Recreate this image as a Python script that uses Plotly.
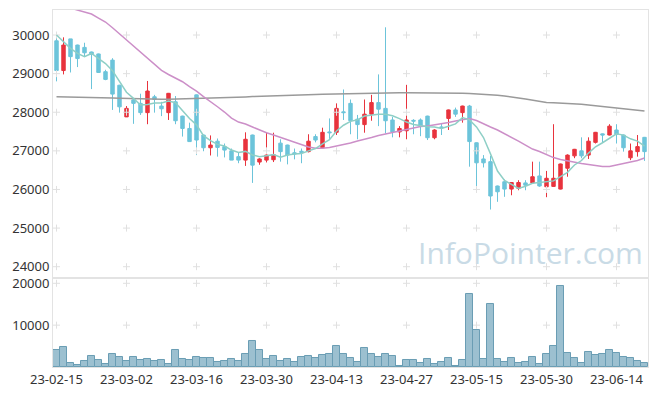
import plotly.graph_objects as go

dates = ["23-02-15","23-02-16","23-02-17","23-02-20","23-02-21","23-02-22","23-02-23","23-02-24","23-02-27","23-02-28",
         "23-03-02","23-03-03","23-03-06","23-03-07","23-03-08","23-03-09","23-03-10","23-03-13","23-03-14","23-03-15",
         "23-03-16","23-03-17","23-03-20","23-03-21","23-03-22","23-03-23","23-03-24","23-03-27","23-03-28","23-03-29",
         "23-03-30","23-03-31","23-04-03","23-04-04","23-04-05","23-04-06","23-04-07","23-04-10","23-04-11","23-04-12",
         "23-04-13","23-04-14","23-04-17","23-04-18","23-04-19","23-04-20","23-04-21","23-04-24","23-04-25","23-04-26",
         "23-04-27","23-04-28","23-05-02","23-05-03","23-05-04","23-05-08","23-05-09","23-05-10","23-05-11","23-05-12",
         "23-05-15","23-05-16","23-05-17","23-05-18","23-05-19","23-05-22","23-05-23","23-05-24","23-05-25","23-05-26",
         "23-05-30","23-05-31","23-06-01","23-06-02","23-06-05","23-06-07","23-06-08","23-06-09","23-06-12","23-06-13",
         "23-06-14","23-06-15","23-06-16","23-06-19","23-06-20"]

open_ = [29850,29080,29900,29740,29680,29560,29510,29050,29350,28700,
         27880,28320,28230,27990,28400,28160,27990,28270,27900,27580,
         28450,27410,27080,27250,27110,27000,26850,26760,27410,26710,
         26760,26770,27200,27150,26950,26990,26980,27370,27080,27490,
         27480,28010,28230,27820,27680,27950,28250,28100,27800,27490,
         27520,27790,27800,27900,27340,27620,27840,28060,27990,28160,
         27210,26790,26720,26090,26200,26010,26030,26170,26170,26350,
         26070,26080,26010,26550,26870,27000,26890,27220,27440,27410,
         27540,27410,26820,26980,27350]
high = [30000,29940,29900,29750,29800,29570,29520,29100,29400,28710,
        28160,28340,28480,28810,28450,28270,28500,28420,27910,27730,
        28460,27420,27400,27320,27190,27060,26950,27480,27420,26810,
        27480,27470,27300,27160,27060,27060,27430,27430,27600,27840,
        28230,28590,28330,27930,28330,28450,28980,30200,27880,27640,
        28710,27820,27840,27910,27560,27710,28070,28120,28170,28190,
        27220,26890,26870,26100,26260,26190,26240,26240,26720,26720,
        26480,27690,26670,26910,27050,27350,27350,27490,27450,27690,
        27690,27420,27190,27410,27360]
low = [28800,28980,29030,29170,29440,28600,29020,28830,28060,27990,
       27880,27700,27930,27690,27990,27900,27800,27690,27370,27230,
       26890,26990,26880,26850,26830,26760,26680,26610,26170,26640,
       26700,26710,26720,26650,26780,26680,26960,27220,27060,27310,
       27410,27800,27430,27300,27470,27780,27640,27450,27350,27350,
       27300,27430,27380,27280,27300,27410,27540,27880,27730,26590,
       25980,26570,25480,25680,25810,25850,25980,25980,26160,26070,
       25800,26070,26000,26330,26810,26810,26790,27190,27210,27400,
       27190,26980,26760,26850,26740]
close = [29080,29740,29440,29390,29540,29500,29030,28850,28470,28140,
         28100,28230,27990,28550,28330,28090,28490,27780,27580,27240,
         27280,27080,27150,27090,27020,26760,26760,27300,26630,26790,
         26890,26900,26980,26890,26920,26960,27250,27280,27480,27470,
         28100,27990,27780,27680,27950,28250,28080,27780,27490,27580,
         27800,27770,27640,27340,27540,27600,28060,27950,28160,27240,
         26690,26690,25830,25940,26010,26180,26180,26110,26330,26090,
         26290,26290,26660,26890,27040,26870,27250,27480,27410,27640,
         27430,27080,27000,27110,26980]
volume = [4050,4760,950,480,1430,2620,1750,710,3100,2380,
          1430,2380,1750,1900,1430,1750,710,4050,1900,1750,
          2380,2140,2140,1270,1430,1900,1430,3100,6190,4050,
          1900,2620,1430,1900,1190,2380,2620,2140,2860,3100,
          5000,3100,2140,1190,4530,3100,2380,3100,2620,240,
          1670,1670,950,1900,710,1190,2140,240,1670,17390,
          8810,1900,15010,1900,1190,2140,950,1190,2380,710,
          3100,5000,19290,3330,2140,950,3570,2860,3100,4050,
          3330,2380,2140,1430,950]
ma5 = [30000,29830,29655,29525,29438,29522,29380,29262,29078,28798,
       28518,28358,28186,28202,28240,28238,28290,28248,28054,27836,
       27674,27392,27266,27168,27124,27020,26956,26986,26894,26848,
       26874,26902,26838,26890,26916,26930,27000,27060,27178,27288,
       27516,27664,27764,27804,27900,27930,27948,27948,27910,27836,
       27746,27684,27656,27626,27618,27578,27636,27698,27862,27802,
       27620,27346,26922,26478,26232,26130,26028,26084,26162,26178,
       26200,26222,26332,26444,26634,26750,26942,27106,27210,27330,
       27442,27408,27312,27252,27120]
ma20 = [30800,30750,30690,30650,30610,30544,30440,30337,30189,30028,
        29870,29710,29549,29391,29241,29083,28977,28889,28790,28661,
        28549,28407,28264,28142,28005,27850,27746,27694,27617,27539,
        27469,27409,27344,27280,27215,27150,27098,27065,27065,27085,
        27124,27150,27202,27254,27293,27344,27396,27435,27474,27513,
        27539,27583,27630,27642,27668,27694,27733,27772,27811,27837,
        27785,27694,27617,27539,27448,27357,27254,27150,27047,26982,
        26904,26826,26775,26736,26702,26671,26645,26619,26593,26593,
        26632,26676,26710,26749,26813]
ma_long = [28402,28400,28398,28394,28390,28386,28381,28375,28368,28362,
           28355,28348,28342,28336,28334,28334,28336,28340,28344,28348,
           28352,28356,28362,28368,28375,28382,28390,28398,28406,28414,
           28420,28425,28430,28436,28442,28448,28454,28460,28466,28471,
           28476,28481,28486,28491,28496,28500,28503,28505,28505,28505,
           28505,28505,28505,28504,28502,28500,28497,28494,28490,28484,
           28478,28468,28454,28440,28420,28400,28370,28340,28310,28280,
           28250,28245,28238,28232,28222,28205,28188,28170,28150,28135,
           28120,28108,28090,28065,28035]

price_ticks = [24000, 25000, 26000, 27000, 28000, 29000, 30000]
vol_ticks = [10000, 20000]
x_tick_idx = list(range(0, len(dates), 10))

idx = list(range(len(dates)))
RED = "#e8333d"
BLUE = "#6cc4da"
GRID = "#e0e0e0"
FRAME = "#e3e3e3"
FONT = dict(family="Noto Sans, Open Sans, sans-serif", size=13, color="#333333")

fig = go.Figure()

# grid crosses at tick intersections
cx = [x for x in x_tick_idx for _ in price_ticks]
cy = [y for _ in x_tick_idx for y in price_ticks]
fig.add_trace(go.Scatter(x=cx, y=cy, mode="markers", xaxis="x", yaxis="y",
                         marker=dict(symbol="cross-thin", size=5, line=dict(color=GRID, width=1)),
                         hoverinfo="skip", showlegend=False))
vx = [x for x in x_tick_idx for _ in vol_ticks]
vy = [y for _ in x_tick_idx for y in vol_ticks]
fig.add_trace(go.Scatter(x=vx, y=vy, mode="markers", xaxis="x2", yaxis="y2",
                         marker=dict(symbol="cross-thin", size=5, line=dict(color=GRID, width=1)),
                         hoverinfo="skip", showlegend=False))

fig.add_trace(go.Candlestick(
    x=idx, open=open_, high=high, low=low, close=close, xaxis="x", yaxis="y",
    increasing=dict(line=dict(color=RED, width=1), fillcolor=RED),
    decreasing=dict(line=dict(color=BLUE, width=1), fillcolor=BLUE),
    whiskerwidth=0, showlegend=False))

fig.add_trace(go.Scatter(x=idx, y=ma_long, mode="lines", xaxis="x", yaxis="y",
                         line=dict(color="#9a9a9a", width=1.5), showlegend=False))
fig.add_trace(go.Scatter(x=idx, y=ma20, mode="lines", xaxis="x", yaxis="y",
                         line=dict(color="#cc8fc8", width=1.5), showlegend=False))
fig.add_trace(go.Scatter(x=idx, y=ma5, mode="lines", xaxis="x", yaxis="y",
                         line=dict(color="#8ecfc6", width=1.5), showlegend=False))

fig.add_trace(go.Bar(x=idx, y=volume, xaxis="x2", yaxis="y2",
                     marker=dict(color="#9cc0d0", line=dict(color="#6a9db4", width=1)),
                     showlegend=False))

split = 0.2493
fig.update_layout(
    width=657, height=396,
    margin=dict(l=53, r=9, t=10, b=29, autoexpand=False),
    paper_bgcolor="white", plot_bgcolor="white",
    bargap=0, boxgap=0.3,
    font=FONT,
    xaxis=dict(domain=[0, 1], range=[-0.5, len(dates) - 0.5], showticklabels=False,
               showgrid=False, zeroline=False, showline=True, linecolor=FRAME, mirror=True,
               rangeslider=dict(visible=False), anchor="y", ticks="", automargin=False),
    yaxis=dict(domain=[split, 1], range=[23707, 30648], tickvals=price_ticks,
               ticktext=[str(v) for v in price_ticks],
               showgrid=False, zeroline=False, showline=True, linecolor=FRAME, mirror=True,
               ticks="", tickfont=FONT, anchor="x", automargin=False),
    xaxis2=dict(domain=[0, 1], range=[-0.5, len(dates) - 0.5],
                tickvals=x_tick_idx, ticktext=[dates[i] for i in x_tick_idx],
                showgrid=False, zeroline=False, showline=True, linecolor=FRAME, mirror=True,
                ticks="", tickfont=FONT, anchor="y2", tickangle=0, automargin=False),
    yaxis2=dict(domain=[0, split], range=[0, 21266], tickvals=vol_ticks,
                ticktext=[str(v) for v in vol_ticks],
                showgrid=False, zeroline=False, showline=True, linecolor=FRAME, mirror=True,
                ticks="", tickfont=FONT, anchor="x2", automargin=False),
    annotations=[dict(text="InfoPointer.com", xref="paper", yref="paper",
                      x=0.995, y=0.258, xanchor="right", yanchor="bottom", showarrow=False,
                      font=dict(family="Open Sans, Noto Sans, sans-serif", size=30, color="#c9dbe6"))],
)

fig.write_html("out.html", config={"displayModeBar": False},
               post_script="document.body.style.margin='0';")
